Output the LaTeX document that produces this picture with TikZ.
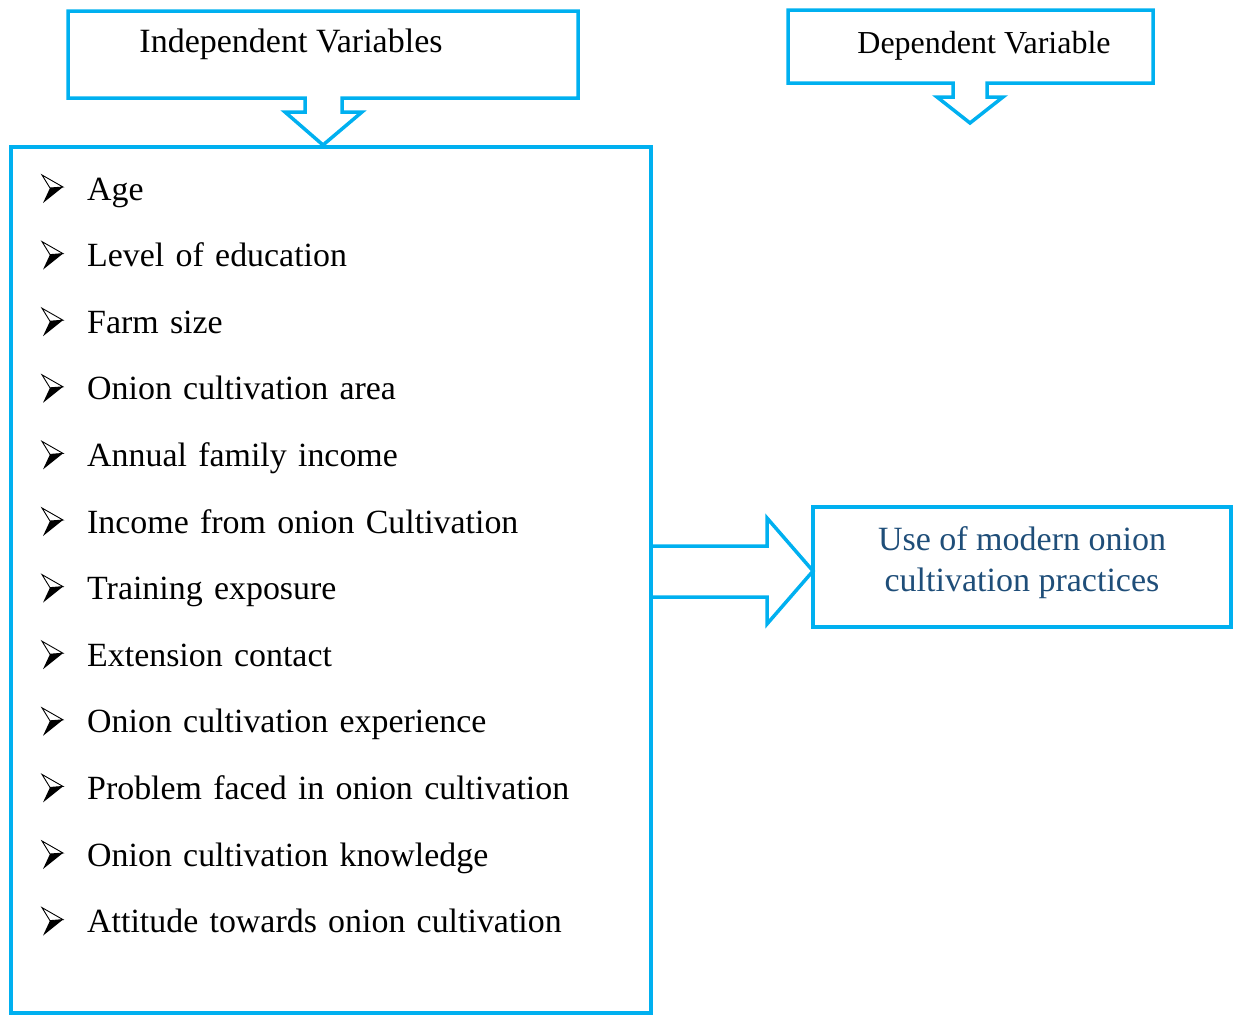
\documentclass[tikz,border=0pt]{standalone}
\usepackage{fontspec}
\setmainfont{Liberation Serif}
\usetikzlibrary{positioning}
\definecolor{boxcyan}{HTML}{00B0F0}
\definecolor{textblue}{HTML}{1F4E79}

\begin{document}
\begin{tikzpicture}[
  x=1pt, y=-1pt,
  node distance=34.2pt,
  outline/.style={draw=boxcyan, line width=3.5pt, line join=miter},
  item/.style={anchor=west, inner sep=0pt, text width=560pt, align=left, text height=24pt, text depth=8pt, font=\fontsize{33.9}{40}\selectfont},
  title/.style={inner sep=0pt, anchor=base, font=\fontsize{34}{40}\selectfont},
  arrowbullet/.pic={
    \draw[line width=0.9pt, line join=miter, fill=white] (-45,-17) -- (-24,-5) -- (-37,-4) -- cycle;
    \fill (-37,-4) -- (-24,-5) -- (-44,11) -- cycle;
  }
]
\useasboundingbox (0,0) rectangle (1233,1015);

% Heading boxes with down arrows
\draw[outline] (68,11) -- (578,11) -- (578,98) -- (342,98) -- (342,112) -- (362,112) -- (323,145)
  -- (285,112) -- (305,112) -- (305,98) -- (68,98) -- cycle;
\node[title] (ivtitle) at (291,52) {Independent Variables};

\draw[outline] (788,10) -- (1153,10) -- (1153,83) -- (987,83) -- (987,97) -- (1003,97) -- (970,123)
  -- (937,97) -- (953,97) -- (953,83) -- (788,83) -- cycle;
\node[title, font=\fontsize{32}{38}\selectfont] (dvtitle) at (984,53) {Dependent Variable};

% Variables list
\node[outline, anchor=north west, inner sep=0pt, outer sep=0pt, minimum width=640pt, minimum height=866pt] (ivbox) at (11,147) {};
\node[item] (v1) at (87,192) {Age};
\node[item, below=of v1] (v2) {Level of education};
\node[item, below=of v2] (v3) {Farm size};
\node[item, below=of v3] (v4) {Onion cultivation area};
\node[item, below=of v4] (v5) {Annual family income};
\node[item, below=of v5] (v6) {Income from onion Cultivation};
\node[item, below=of v6] (v7) {Training exposure};
\node[item, below=of v7] (v8) {Extension contact};
\node[item, below=of v8] (v9) {Onion cultivation experience};
\node[item, below=of v9] (v10) {Problem faced in onion cultivation};
\node[item, below=of v10] (v11) {Onion cultivation knowledge};
\node[item, below=of v11] (v12) {Attitude towards onion cultivation};
\foreach \i in {1,...,12}
  \pic at (v\i.west) {arrowbullet};

% Outcome
\node[outline, anchor=north west, inner sep=0pt, outer sep=0pt, minimum width=418pt, minimum height=120pt] (dvbox) at (813,507) {};
\node[align=center, text=textblue, inner sep=0pt, font=\fontsize{34}{41}\selectfont] (dvtext) at (1022,563)
  {Use of modern onion\\cultivation practices};

\draw[outline] (ivbox.east |- 0,546) -- (767,546) -- (767,518) -- (dvbox.west |- 0,571) -- (767,624)
  -- (767,597) -- (ivbox.east |- 0,597);

\end{tikzpicture}
\end{document}
